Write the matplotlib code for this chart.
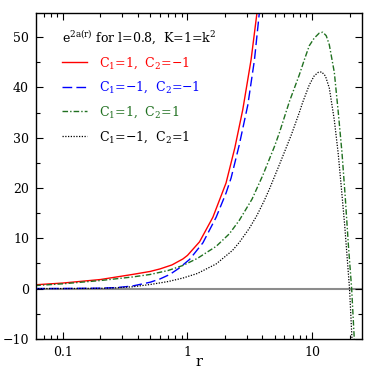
import numpy as np
import matplotlib
matplotlib.use('Agg')
import matplotlib.pyplot as plt
from matplotlib.ticker import MultipleLocator, LogLocator, FixedFormatter, FixedLocator

plt.rcParams['font.family'] = ['DejaVu Serif']
plt.rcParams['mathtext.fontset'] = 'dejavuserif'

# curve values
r_red = [0.06, 0.1, 0.2, 0.36, 0.5, 0.6, 0.75, 0.92, 1.0, 1.25, 1.6, 2.04, 2.4, 2.78, 3.24, 3.62, 3.8]
y_red = [0.75, 1.1, 1.8, 2.8, 3.4, 3.9, 4.7, 5.9, 6.6, 9.3, 14.2, 21.0, 28.0, 35.6, 45.5, 55.0, 60.0]

r_blue = [0.06, 0.1, 0.2, 0.27, 0.36, 0.5, 0.6, 0.72, 0.85, 1.04, 1.33, 1.7, 2.04, 2.24, 2.6, 3.05, 3.45, 3.78, 3.95]
y_blue = [0.0, 0.02, 0.08, 0.2, 0.5, 1.25, 1.9, 2.8, 4.0, 5.8, 9.1, 14.2, 19.0, 22.0, 28.5, 36.5, 45.5, 55.0, 60.0]

r_green = [0.06, 0.1, 0.2, 0.36, 0.5, 0.7, 0.92, 1.2, 1.7, 2.17, 2.61, 3.3, 4.02, 5.0, 5.47, 6.58, 7.9, 8.67,
           9.5, 10.4, 11.4, 12.2, 13.0, 13.76, 15.1, 16.25, 17.4, 18.5, 19.6, 20.8, 21.8, 22.3]
y_green = [0.6, 0.95, 1.6, 2.3, 2.8, 3.6, 4.6, 6.0, 8.4, 10.9, 13.6, 17.8, 22.5, 28.3, 31.0, 37.2, 42.5, 45.5,
           48.3, 49.8, 50.8, 51.0, 50.3, 48.5, 43.0, 35.0, 27.0, 18.0, 8.5, 0.0, -9.7, -14.0]

r_black = [0.06, 0.1, 0.2, 0.27, 0.36, 0.5, 0.7, 0.92, 1.2, 1.7, 2.3, 2.61, 3.14, 3.6, 4.1, 4.55, 5.5, 6.8,
           7.9, 8.4, 9.5, 10.4, 11.2, 11.95, 12.8, 13.76, 15.1, 16.2, 17.2, 18.3, 19.3, 20.0, 20.9, 21.3]
y_black = [0.0, 0.0, 0.05, 0.15, 0.35, 0.8, 1.4, 2.1, 3.0, 4.9, 7.6, 9.2, 12.0, 14.5, 17.3, 19.8, 24.8, 30.5,
           35.0, 37.0, 40.5, 42.3, 43.0, 43.1, 42.3, 39.9, 33.5, 27.0, 20.0, 12.5, 5.0, 0.0, -9.7, -14.0]

labels = ['C$_1$=1,  C$_2$=\u22121', 'C$_1$=\u22121,  C$_2$=\u22121',
          'C$_1$=1,  C$_2$=1', 'C$_1$=\u22121,  C$_2$=1']
legend_title = r'e$^{\mathrm{2a(r)}}$ for l=0.8,  K=1=k$^{\mathrm{2}}$'

fig = plt.figure(figsize=(3.74, 3.74), dpi=100)
ax = fig.add_axes([0.096, 0.094, 0.872, 0.871])

ax.axhline(0, color='#8c8c8c', lw=1.5, zorder=1)
ax.plot(r_red, y_red, color='red', lw=1.0, label=labels[0])
ax.plot(r_blue, y_blue, color='blue', lw=1.0, dashes=(7, 3), label=labels[1])
ax.plot(r_green, y_green, color='#207020', lw=1.0, dashes=(4, 1.5, 1, 1.5), label=labels[2])
ax.plot(r_black, y_black, color='black', lw=0.9, dashes=(1, 1.2), label=labels[3])

ax.set_xscale('log')
ax.set_xlim(0.0607, 25.2)
ax.set_ylim(-10, 54.8)

ax.xaxis.set_major_locator(FixedLocator([0.1, 1, 10]))
ax.xaxis.set_major_formatter(FixedFormatter(['0.1', '1', '10']))
ax.xaxis.set_minor_locator(LogLocator(base=10, subs=np.arange(2, 10)))
ax.xaxis.set_minor_formatter(FixedFormatter([]))
ax.yaxis.set_minor_locator(MultipleLocator(5))
ax.set_yticks([-10, 0, 10, 20, 30, 40, 50])
ax.set_yticklabels(['\u221210', '0', '10', '20', '30', '40', '50'])

ax.tick_params(which='both', direction='in', top=True, right=True, labelsize=9, width=0.8)
ax.tick_params(which='major', length=5, pad=5)
ax.tick_params(which='minor', length=3)
for s in ax.spines.values():
    s.set_linewidth(1.0)

ax.set_xlabel('r', fontsize=10.5, labelpad=-3)

leg = ax.legend(loc='upper left', bbox_to_anchor=(0.065, 0.969), title=legend_title, title_fontsize=9,
                fontsize=9, frameon=False, labelcolor='linecolor', handlelength=2.0,
                handletextpad=0.95, labelspacing=0.74, alignment='left', borderaxespad=0)

fig.savefig('out.png', dpi=100)
